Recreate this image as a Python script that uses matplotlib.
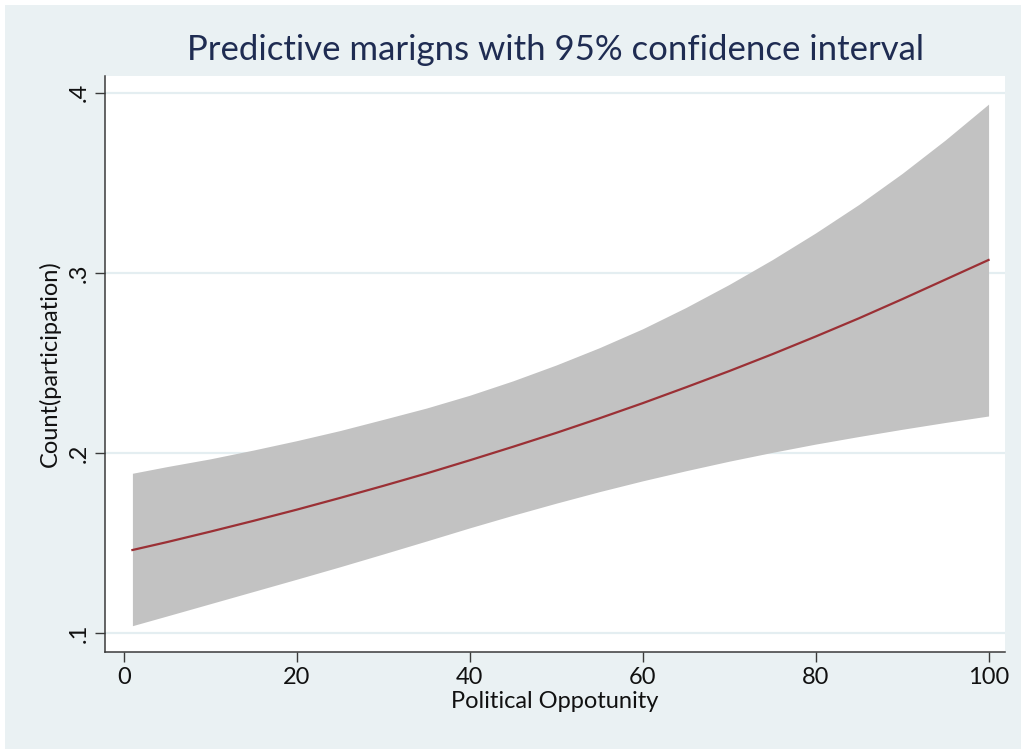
import matplotlib.pyplot as plt
import matplotlib.patches as mpatches

# predictive margins of participation count over political opportunity
opportunity = [1, 5, 10, 15, 20, 25, 30, 35, 40, 45, 50,
               55, 60, 65, 70, 75, 80, 85, 90, 95, 100]
margin = [0.1462, 0.1506, 0.1564, 0.1624, 0.1686, 0.1751, 0.1818, 0.1887, 0.1960, 0.2035, 0.2112,
          0.2193, 0.2277, 0.2365, 0.2455, 0.2549, 0.2647, 0.2748, 0.2854, 0.2963, 0.3072]
ci_upper = [0.1888, 0.1925, 0.1968, 0.2017, 0.2069, 0.2125, 0.2187, 0.2250, 0.2321, 0.2401, 0.2489,
            0.2585, 0.2690, 0.2808, 0.2936, 0.3074, 0.3222, 0.3380, 0.3552, 0.3738, 0.3937]
ci_lower = [0.1042, 0.1096, 0.1164, 0.1232, 0.1300, 0.1369, 0.1440, 0.1512, 0.1585, 0.1655, 0.1722,
            0.1786, 0.1846, 0.1902, 0.1955, 0.2004, 0.2050, 0.2092, 0.2132, 0.2170, 0.2206]

xticks = [0, 20, 40, 60, 80, 100]
yticks = [0.1, 0.2, 0.3, 0.4]
ytick_labels = ['.1', '.2', '.3', '.4']

plt.rcParams['font.family'] = ['Lato', 'DejaVu Sans']

bg = '#eaf1f3'
W, H = 1021, 749
fig = plt.figure(figsize=(W / 100, H / 100), dpi=100)
fig.patch.set_facecolor('white')
# white strip on the top and left edges only
fig.patches.append(mpatches.Rectangle((5 / W, -0.1), 2, 1.1 - 5 / H, transform=fig.transFigure,
                                      facecolor=bg, edgecolor='none', zorder=-10))

ax = fig.add_axes([105 / W, 1 - 652 / H, 900 / W, 576 / H])
ax.set_facecolor('white')

ax.fill_between(opportunity, ci_lower, ci_upper, color='#c2c2c2', linewidth=0, zorder=2)
ax.plot(opportunity, margin, color='#9b3035', linewidth=1.6, zorder=3)

ax.set_xlim(-2.17, 101.9)
ax.set_ylim(0.0896, 0.4093)

for y in yticks:
    ax.axhline(y, color='#e4eef1', linewidth=1.6, zorder=1)

ax.set_xticks(xticks)
ax.set_yticks(yticks)
ax.set_yticklabels(ytick_labels, rotation=90, va='center')

for s in ['top', 'right']:
    ax.spines[s].set_visible(False)
for s in ['left', 'bottom']:
    ax.spines[s].set_color('#3a3a3a')
    ax.spines[s].set_linewidth(1.1)

ax.tick_params(axis='both', direction='out', length=7, width=1.0, color='#3a3a3a',
               labelsize=17, labelcolor='#111111', pad=4)

ax.set_xlabel('Political Oppotunity', fontsize=17, color='#111111', labelpad=2)
ax.set_ylabel('Count(participation)', fontsize=17, color='#111111', labelpad=6)

fig.text(555 / W, 1 - 50 / H, 'Predictive marigns with 95% confidence interval',
         ha='center', va='center', fontsize=25, color='#1f2c52')

fig.savefig('out.png', dpi=100, facecolor=fig.get_facecolor())
